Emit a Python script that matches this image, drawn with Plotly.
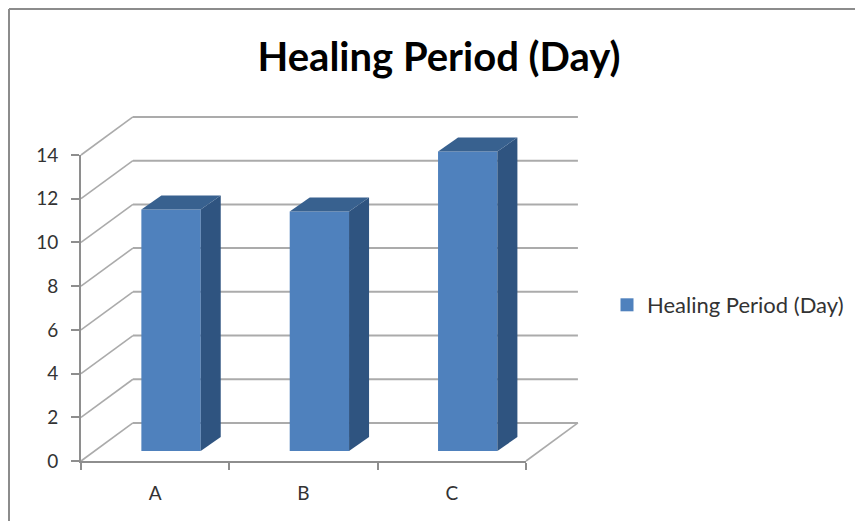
import plotly.graph_objects as go

W, H = 855, 521
categories = ["A", "B", "C"]
series_name = "Healing Period (Day)"
healing_days = [11.05, 10.96, 13.7]
y_ticks = [0, 2, 4, 6, 8, 10, 12, 14]

# frame of the front axes, in pixels
AX_L, AX_R, AX_T, AX_B = 81, 526, 155, 461
n = len(categories)
Y_MAX = 14
X_PX = (AX_R - AX_L) / n
Y_PX = (AX_B - AX_T) / Y_MAX

# oblique projection of the 3-D Excel look, in axis units
WALL_DX, WALL_DY = 0.35, 1.74
BAR_SHIFT, BAR_BASE = 0.107, 0.46
BAR_WIDTH = 0.40
SIDE_DX, SIDE_DY = 0.135, 0.64

FRONT, SIDE, TOP = "#4F81BD", "#2F5480", "#38618F"
GRID, AXIS = "#ABABAB", "#8E8E8E"
TEXT = "#333333"
FONT = "Lato"

fig = go.Figure()

centers = [i + 0.5 + BAR_SHIFT for i in range(n)]

fig.add_trace(go.Bar(
    x=centers, y=healing_days, base=BAR_BASE, width=BAR_WIDTH,
    marker=dict(color=FRONT, line=dict(width=0)),
    showlegend=False, hoverinfo="skip", xaxis="x", yaxis="y",
))

for c, v in zip(centers, healing_days):
    l, r = c - BAR_WIDTH / 2, c + BAR_WIDTH / 2
    low, high = BAR_BASE, BAR_BASE + v
    fig.add_trace(go.Scatter(
        x=[r, r + SIDE_DX, r + SIDE_DX, r, r],
        y=[low, low + SIDE_DY, high + SIDE_DY, high, low],
        mode="lines", fill="toself", fillcolor=SIDE, line=dict(width=0),
        showlegend=False, hoverinfo="skip", xaxis="x", yaxis="y",
    ))
    fig.add_trace(go.Scatter(
        x=[l, l + SIDE_DX, r + SIDE_DX, r, l],
        y=[high, high + SIDE_DY, high + SIDE_DY, high, high],
        mode="lines", fill="toself", fillcolor=TOP, line=dict(width=0),
        showlegend=False, hoverinfo="skip", xaxis="x", yaxis="y",
    ))

fig.add_trace(go.Scatter(
    x=[None], y=[None], mode="markers", name=series_name,
    marker=dict(symbol="square", size=13, color=FRONT), xaxis="x", yaxis="y",
))
# keeps the visible front axes alive
fig.add_trace(go.Scatter(
    x=[0], y=[0], mode="markers", marker=dict(size=1, opacity=0),
    showlegend=False, hoverinfo="skip", xaxis="x2", yaxis="y2",
))

shapes = []
for t in y_ticks:
    shapes.append(dict(type="line", xref="x", yref="y", layer="below",
                       x0=0, y0=t, x1=WALL_DX, y1=t + WALL_DY,
                       line=dict(color=GRID, width=1.6)))
    shapes.append(dict(type="line", xref="x", yref="y", layer="below",
                       x0=WALL_DX, y0=t + WALL_DY, x1=n + WALL_DX, y1=t + WALL_DY,
                       line=dict(color=GRID, width=2)))
shapes.append(dict(type="line", xref="x", yref="y", layer="below",
                   x0=n, y0=0, x1=n + WALL_DX, y1=WALL_DY,
                   line=dict(color=GRID, width=1.6)))
# outer picture frame
shapes.append(dict(type="line", xref="paper", yref="paper",
                   x0=9 / W, y0=1 - 9 / H, x1=1, y1=1 - 9 / H,
                   line=dict(color="#8C8C8C", width=2)))
shapes.append(dict(type="line", xref="paper", yref="paper",
                   x0=9 / W, y0=1 - 9 / H, x1=9 / W, y1=0,
                   line=dict(color="#8C8C8C", width=2)))

fig.update_layout(
    width=W, height=H, autosize=False,
    margin=dict(l=0, r=0, t=0, b=0, autoexpand=False),
    paper_bgcolor="white", plot_bgcolor="rgba(0,0,0,0)",
    font=dict(family=FONT, color=TEXT),
    title=dict(text=series_name, x=439 / W, xanchor="center", y=1 - 57 / H, yanchor="middle",
               font=dict(family=FONT, size=40, color="#000000", weight="bold")),
    shapes=shapes,
    showlegend=True,
    legend=dict(x=607 / W, xanchor="left", y=1 - 305 / H, yanchor="middle",
                bgcolor="rgba(0,0,0,0)", font=dict(family=FONT, size=22, color=TEXT),
                itemwidth=30),
    # full-page axes carrying the bars and walls, same scale as the front axes
    xaxis=dict(domain=[0, 1], range=[-AX_L / X_PX, (W - AX_L) / X_PX], visible=False),
    yaxis=dict(domain=[0, 1], range=[(AX_B - H) / Y_PX, AX_B / Y_PX], visible=False),
    xaxis2=dict(
        domain=[AX_L / W, AX_R / W], range=[0, n], anchor="y2",
        tickvals=[i + 0.5 for i in range(n)], ticktext=categories,
        ticks="", showgrid=False, zeroline=False,
        showline=True, linecolor=AXIS, linewidth=2,
        tickfont=dict(family=FONT, size=19, color=TEXT), ticklabelstandoff=14,
        minor=dict(tickvals=list(range(n + 1)), ticks="outside", ticklen=7,
                   tickcolor=AXIS, tickwidth=2, showgrid=False),
    ),
    yaxis2=dict(
        domain=[1 - AX_B / H, 1 - AX_T / H], range=[0, Y_MAX], anchor="x2",
        tickvals=y_ticks, ticks="outside", ticklen=8, tickcolor=AXIS, tickwidth=2,
        showgrid=False, zeroline=False,
        showline=True, linecolor=AXIS, linewidth=2,
        tickfont=dict(family=FONT, size=19, color=TEXT), ticklabelstandoff=9,
    ),
)

fig.write_html("out.html", post_script="document.body.style.margin='0';",
               config=dict(displayModeBar=False))
